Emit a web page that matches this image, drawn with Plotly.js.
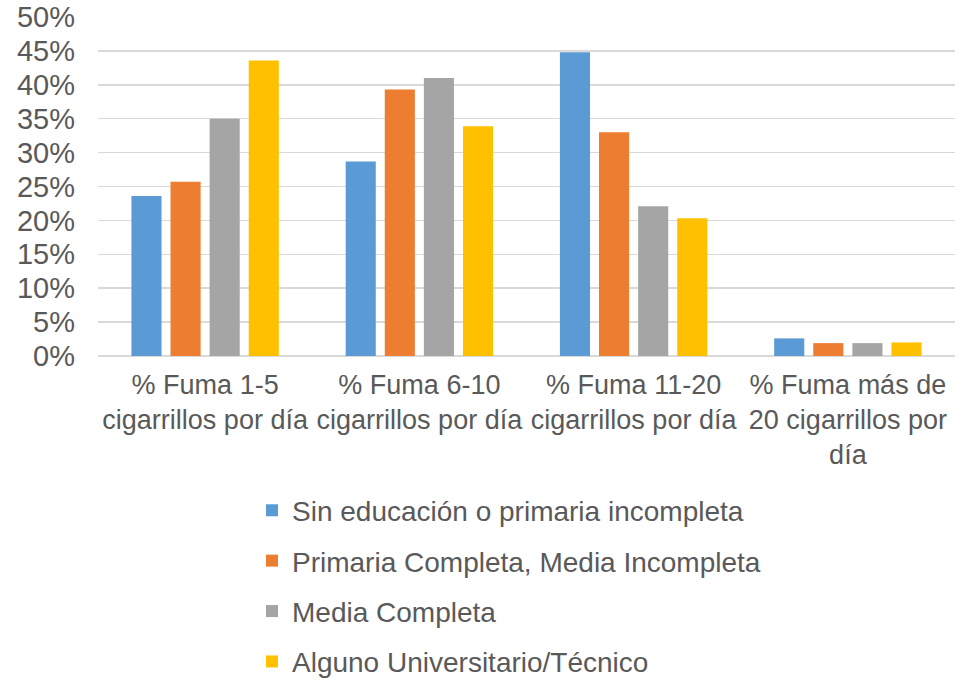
<!DOCTYPE html>
<html>
<head>
<meta charset="utf-8">
<script src="https://cdn.plot.ly/plotly-3.0.1.min.js"></script>
<style>html,body{margin:0;padding:0;background:#fff}#chart{width:958px;height:681px}</style>
</head>
<body>
<div id="chart"></div>
<script>
const categories = [
  "% Fuma 1-5<br>cigarrillos por día",
  "% Fuma 6-10<br>cigarrillos por día",
  "% Fuma 11-20<br>cigarrillos por día",
  "% Fuma más de<br>20 cigarrillos por<br>día"
];
const seriesNames = [
  "Sin educación o primaria incompleta",
  "Primaria Completa, Media Incompleta",
  "Media Completa",
  "Alguno Universitario/Técnico"
];
const sinEducacion = [0.236, 0.287, 0.448, 0.026];
const primariaCompleta = [0.257, 0.393, 0.330, 0.019];
const mediaCompleta = [0.350, 0.410, 0.221, 0.019];
const universitario = [0.436, 0.339, 0.203, 0.020];
const colors = ["#5B9BD5", "#ED7D31", "#A5A5A5", "#FFC000"];

const values = [sinEducacion, primariaCompleta, mediaCompleta, universitario];
const traces = values.map((v, i) => ({
  type: "bar",
  x: categories,
  y: v,
  name: seriesNames[i],
  legendgroup: "g" + i,
  marker: {color: colors[i]},
  hoverinfo: "y+name"
}));

const layout = {
  width: 958, height: 681,
  margin: {l: 98, r: 3, t: 17, b: 325},
  paper_bgcolor: "#fff", plot_bgcolor: "#fff",
  font: {family: "Liberation Sans, Arial, sans-serif", color: "#595959"},
  barmode: "group",
  bargap: 0.27,
  bargroupgap: 0.23,
  xaxis: {
    type: "category",
    tickfont: {size: 27, color: "#595959"},
    showgrid: false, showline: false, ticks: "",
    ticklabelstandoff: 10,
    automargin: false
  },
  yaxis: {
    range: [0, 0.5],
    dtick: 0.05,
    tickformat: ".0%",
    tickfont: {size: 29, color: "#595959"},
    gridcolor: "#D9D9D9", gridwidth: 1.5,
    zeroline: true, zerolinecolor: "#D9D9D9", zerolinewidth: 1.5,
    showline: false, ticks: "",
    ticklabelstandoff: 22,
    automargin: false
  },
  showlegend: true,
  legend: {
    orientation: "v",
    xref: "paper", x: 0.1797, xanchor: "left",
    yref: "container", y: 0.287, yanchor: "top",
    font: {size: 28, color: "#595959"},
    tracegroupgap: 11,
    traceorder: "grouped",
    itemwidth: 30,
    bgcolor: "rgba(0,0,0,0)"
  }
};

Plotly.newPlot("chart", traces, layout, {displayModeBar: false, staticPlot: true});
</script>
</body>
</html>
